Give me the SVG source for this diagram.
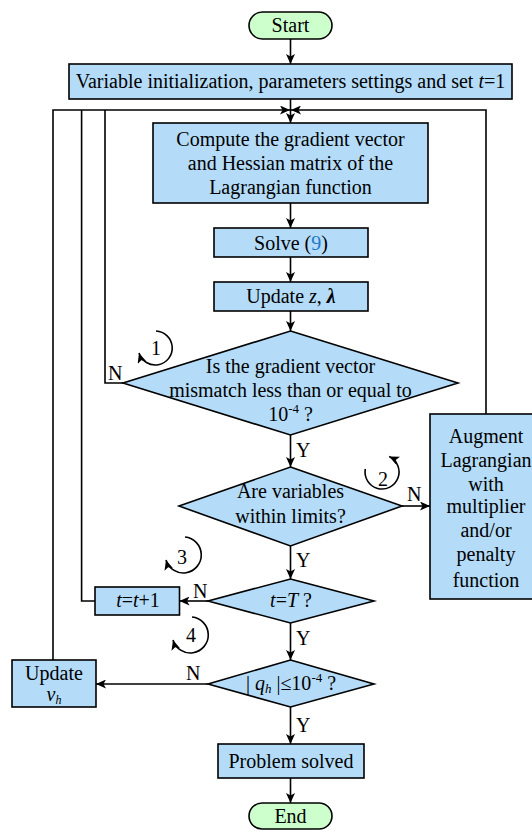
<svg xmlns="http://www.w3.org/2000/svg" width="532" height="830" viewBox="0 0 532 830">
<defs>
<style>
.box{fill:#b4dcf8;stroke:#000;stroke-width:1.6}
.term{fill:#ccffcc;stroke:#000;stroke-width:1.6}
.t{font-family:"Liberation Serif","Times New Roman",serif;font-size:20px;fill:#000;text-anchor:middle}
.l{font-family:"Liberation Serif","Times New Roman",serif;font-size:20px;fill:#000}
.i{font-style:italic}
.c path{stroke:#000;stroke-width:1.6;fill:none}
</style>
<marker id="ah" markerUnits="userSpaceOnUse" markerWidth="11" markerHeight="9" refX="10" refY="4.5" orient="auto">
<path d="M0,0 L10,4.5 L0,9 L2.5,4.5 z" fill="#000"/>
</marker>
</defs>
<rect width="532" height="830" fill="#fff"/>

<g class="c" id="connectors">
<path d="M290.5,39 V64" marker-end="url(#ah)"/>
<path d="M290.5,99 V123" marker-end="url(#ah)"/>
<path d="M53,660 V110 H290" marker-end="url(#ah)"/>
<path d="M81.6,110 V601 H95"/>
<path d="M105,110 V383 H123"/>
<path d="M486,414 V110 H291" marker-end="url(#ah)"/>
<path d="M290.5,203 V228" marker-end="url(#ah)"/>
<path d="M290.5,257 V282" marker-end="url(#ah)"/>
<path d="M290.5,311 V331" marker-end="url(#ah)"/>
<path d="M290.5,435 V467" marker-end="url(#ah)"/>
<path d="M402,506 H430" marker-end="url(#ah)"/>
<path d="M290.5,546 V579" marker-end="url(#ah)"/>
<path d="M208,601 H179.5" marker-end="url(#ah)"/>
<path d="M290.5,623 V660" marker-end="url(#ah)"/>
<path d="M208,684 H96" marker-end="url(#ah)"/>
<path d="M290.5,707 V744" marker-end="url(#ah)"/>
<path d="M290.5,778 V803" marker-end="url(#ah)"/>
<path d="M156,331 A17,17 0 1 1 139,353" marker-end="url(#ah)"/>
<path d="M365.3,469 A17,17 0 1 0 389.2,456.6" marker-end="url(#ah)"/>
<path d="M185,537 A18,18 0 1 1 166,560" marker-end="url(#ah)"/>
<path d="M192,617 A18,18 0 1 1 173,640" marker-end="url(#ah)"/>
</g>

<g id="labels">
<text class="l" x="108" y="380">N</text>
<text class="t" x="156" y="355">1</text>
<text class="l" x="296" y="457">Y</text>
<text class="t" x="383" y="486">2</text>
<text class="l" x="407" y="501">N</text>
<text class="l" x="296" y="567">Y</text>
<text class="t" x="182" y="564">3</text>
<text class="l" x="193" y="598">N</text>
<text class="t" x="191" y="642">4</text>
<text class="l" x="296" y="645">Y</text>
<text class="l" x="186" y="680">N</text>
<text class="l" x="296" y="732">Y</text>
</g>

<g id="start">
<rect class="term" x="249" y="12" width="83" height="27" rx="13.5"/>
<text class="t" x="290.5" y="32">Start</text>
</g>

<g id="init">
<rect class="box" x="69" y="64" width="443" height="35"/>
<text class="t" x="290.5" y="88">Variable initialization, parameters settings and set <tspan class="i">t</tspan>=1</text>
</g>

<g id="compute">
<rect class="box" x="153" y="123" width="275" height="80"/>
<text class="t" x="290.5" y="146">Compute the gradient vector</text>
<text class="t" x="290.5" y="170">and Hessian matrix of the</text>
<text class="t" x="290.5" y="194">Lagrangian function</text>
</g>

<g id="solve">
<rect class="box" x="214" y="228" width="154" height="29"/>
<text class="t" x="291" y="250">Solve (<tspan fill="#1f78c8">9</tspan>)</text>
</g>

<g id="update-z">
<rect class="box" x="214" y="282" width="154" height="29"/>
<text class="t" x="291" y="303">Update <tspan class="i">z</tspan>, <tspan class="i" font-weight="bold">λ</tspan></text>
</g>

<g id="check-gradient">
<path class="box" d="M290.5,331 L458,383 L290.5,435 L123,383 Z"/>
<text class="t" x="290.5" y="373">Is the gradient vector</text>
<text class="t" x="290.5" y="397">mismatch less than or equal to</text>
<text class="t" x="290.5" y="421">10<tspan font-size="13" dy="-8">-4</tspan><tspan dy="8"> ?</tspan></text>
</g>

<g id="check-limits">
<path class="box" d="M290.5,467 L402,506 L290.5,546 L179,506 Z"/>
<text class="t" x="290.5" y="498">Are variables</text>
<text class="t" x="290.5" y="523">within limits?</text>
</g>

<g id="augment">
<rect class="box" x="430" y="414" width="112" height="185"/>
<text class="t" x="486" y="443">Augment</text>
<text class="t" x="486" y="467">Lagrangian</text>
<text class="t" x="486" y="491">with</text>
<text class="t" x="486" y="513">multiplier</text>
<text class="t" x="486" y="537">and/or</text>
<text class="t" x="486" y="561">penalty</text>
<text class="t" x="486" y="587">function</text>
</g>

<g id="check-t">
<path class="box" d="M290.5,579 L374,601 L290.5,623 L208,601 Z"/>
<text class="t" x="291" y="607"><tspan class="i">t</tspan>=<tspan class="i">T</tspan> ?</text>
</g>

<g id="increment-t">
<rect class="box" x="95" y="587" width="84.5" height="28"/>
<text class="t" x="138" y="607"><tspan class="i">t</tspan>=<tspan class="i">t</tspan>+1</text>
</g>

<g id="check-q">
<path class="box" d="M290.5,660 L374,684 L290.5,707 L208,684 Z"/>
<text class="t" x="291" y="690">| <tspan class="i">q</tspan><tspan class="i" font-size="13" dy="3">h</tspan><tspan dy="-3"> |≤10</tspan><tspan font-size="13" dy="-8">-4</tspan><tspan dy="8"> ?</tspan></text>
</g>

<g id="update-v">
<rect class="box" x="12" y="660" width="84" height="47"/>
<text class="t" x="54" y="680">Update</text>
<text class="t" x="54" y="701" font-size="18"><tspan class="i">v</tspan><tspan class="i" font-size="12" dy="3">h</tspan></text>
</g>

<g id="solved">
<rect class="box" x="218" y="744" width="146" height="34"/>
<text class="t" x="291" y="768">Problem solved</text>
</g>

<g id="end">
<rect class="term" x="249" y="803" width="83" height="26" rx="13"/>
<text class="t" x="290.5" y="823">End</text>
</g>
</svg>
